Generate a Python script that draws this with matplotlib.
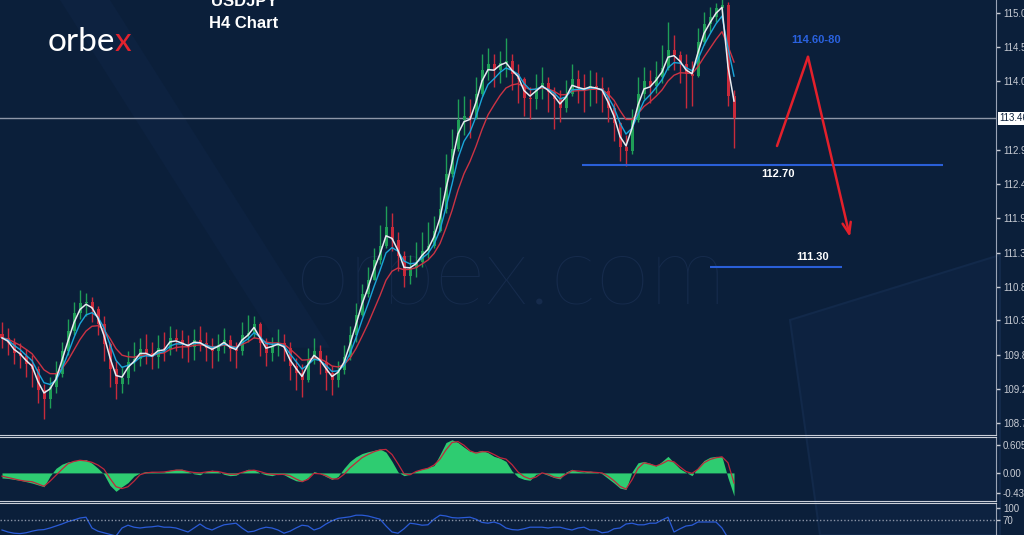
import matplotlib
matplotlib.use("Agg")
import matplotlib.pyplot as plt
import numpy as np
import pandas as pd

BG = "#0b1f3a"

# USDJPY H4 candles (each bar here covers roughly three real H4 bars)
opens = [
    110.12, 110.06, 109.98, 109.82, 109.78, 109.66, 109.58, 109.26, 109.12, 109.30,
    109.50, 109.86, 110.16, 110.44, 110.60, 110.62, 110.50, 110.28, 109.96, 109.58,
    109.34, 109.44, 109.68, 109.74, 109.88, 109.82, 109.76, 109.90, 109.88, 110.06,
    110.02, 109.96, 109.92, 110.02, 109.98, 109.90, 109.86, 109.95, 110.02, 109.88,
    109.86, 110.10, 110.14, 110.28, 109.98, 109.82, 109.94, 109.98, 109.90, 109.62,
    109.52, 109.40, 109.74, 109.86, 109.68, 109.52, 109.40, 109.56, 109.76, 110.10,
    110.42, 110.74, 110.96, 111.26, 111.48, 111.78, 111.58, 111.32, 111.02, 111.14,
    111.24, 111.40, 111.48, 111.72, 112.06, 112.60, 112.98, 113.44, 113.50, 113.46,
    113.84, 114.20, 114.30, 114.20, 114.32, 114.34, 114.14, 114.06, 113.78, 113.76,
    113.92, 114.00, 113.86, 113.76, 113.62, 113.84, 114.06, 113.92, 113.90, 113.96,
    113.92, 113.88, 113.62, 113.38, 113.02, 112.96, 113.44, 113.84, 114.04, 113.96,
    114.10, 114.24, 114.52, 114.44, 114.30, 114.14, 114.12, 114.64, 114.92, 115.02,
    115.16, 115.22, 113.80]
closes = [
    110.06, 109.98, 109.82, 109.78, 109.66, 109.58, 109.26, 109.12, 109.30, 109.50,
    109.86, 110.16, 110.44, 110.60, 110.62, 110.50, 110.28, 109.96, 109.58, 109.34,
    109.44, 109.68, 109.74, 109.88, 109.82, 109.76, 109.90, 109.88, 110.06, 110.02,
    109.96, 109.92, 110.02, 109.98, 109.90, 109.86, 109.95, 110.02, 109.88, 109.86,
    110.10, 110.14, 110.28, 109.98, 109.82, 109.94, 109.98, 109.90, 109.62, 109.52,
    109.40, 109.74, 109.86, 109.68, 109.52, 109.40, 109.56, 109.76, 110.10, 110.42,
    110.74, 110.96, 111.26, 111.48, 111.78, 111.58, 111.32, 111.02, 111.14, 111.24,
    111.40, 111.48, 111.72, 112.06, 112.60, 112.98, 113.44, 113.50, 113.46, 113.84,
    114.20, 114.30, 114.20, 114.32, 114.34, 114.14, 114.06, 113.78, 113.76, 113.92,
    114.00, 113.86, 113.76, 113.62, 113.84, 114.06, 113.92, 113.90, 113.96, 113.92,
    113.88, 113.62, 113.38, 113.02, 112.96, 113.44, 113.84, 114.04, 113.96, 114.10,
    114.24, 114.52, 114.44, 114.30, 114.14, 114.12, 114.64, 114.92, 115.02, 115.16,
    115.22, 113.80, 113.46]
highs = [
    110.30, 110.22, 110.05, 109.98, 109.88, 109.80, 109.62, 109.35, 109.45, 109.70,
    110.00, 110.35, 110.62, 110.80, 110.75, 110.70, 110.55, 110.40, 110.00, 109.70,
    109.62, 109.85, 110.00, 110.05, 110.12, 110.00, 110.10, 110.15, 110.25, 110.20,
    110.18, 110.10, 110.20, 110.25, 110.15, 110.05, 110.12, 110.22, 110.10, 110.00,
    110.30, 110.42, 110.40, 110.30, 110.05, 110.08, 110.20, 110.12, 110.00, 109.75,
    109.65, 109.90, 110.05, 109.95, 109.80, 109.62, 109.70, 109.95, 110.25, 110.60,
    110.90, 111.15, 111.45, 111.80, 112.10, 112.00, 111.70, 111.40, 111.35, 111.55,
    111.70, 111.85, 111.95, 112.40, 112.90, 113.30, 113.75, 113.80, 113.75, 114.10,
    114.45, 114.55, 114.45, 114.50, 114.70, 114.45, 114.30, 114.10, 113.95, 114.15,
    114.25, 114.10, 113.95, 113.90, 114.05, 114.30, 114.20, 114.15, 114.20, 114.18,
    114.10, 113.95, 113.70, 113.40, 113.20, 113.60, 114.10, 114.25, 114.20, 114.35,
    114.60, 114.95, 114.75, 114.50, 114.45, 114.35, 114.85, 115.10, 115.18, 115.25,
    115.30, 115.26, 113.90]
lows = [
    109.90, 109.80, 109.66, 109.60, 109.45, 109.30, 109.05, 108.80, 108.98, 109.20,
    109.45, 109.80, 110.10, 110.35, 110.40, 110.30, 110.10, 109.70, 109.30, 109.12,
    109.20, 109.35, 109.55, 109.62, 109.65, 109.58, 109.60, 109.70, 109.80, 109.85,
    109.75, 109.68, 109.72, 109.85, 109.70, 109.60, 109.70, 109.82, 109.70, 109.60,
    109.80, 110.00, 110.05, 109.78, 109.62, 109.70, 109.78, 109.70, 109.40, 109.25,
    109.15, 109.38, 109.65, 109.50, 109.25, 109.18, 109.30, 109.50, 109.72, 110.00,
    110.40, 110.70, 110.95, 111.20, 111.45, 111.40, 111.10, 110.85, 110.90, 111.00,
    111.15, 111.30, 111.45, 111.70, 112.00, 112.55, 112.95, 113.20, 113.15, 113.45,
    113.80, 114.05, 113.95, 114.00, 114.10, 113.90, 113.70, 113.50, 113.45, 113.60,
    113.75, 113.55, 113.30, 113.40, 113.55, 113.80, 113.70, 113.55, 113.65, 113.70,
    113.55, 113.40, 113.10, 112.80, 112.72, 112.90, 113.40, 113.75, 113.70, 113.85,
    114.00, 114.20, 114.20, 114.00, 113.62, 113.65, 114.10, 114.60, 114.80, 114.95,
    115.00, 113.65, 113.00]

# MACD (histogram + signal line)
macd_hist = [
    -0.11, -0.12, -0.14, -0.16, -0.19, -0.22, -0.26, -0.30, -0.07, 0.10,
    0.19, 0.24, 0.26, 0.28, 0.29, 0.21, 0.10, -0.03, -0.27, -0.40,
    -0.30, -0.21, -0.07, 0.00, 0.03, 0.03, 0.01, 0.02, 0.06, 0.08,
    0.08, 0.03, -0.02, -0.04, 0.03, 0.06, 0.03, -0.03, -0.06, -0.05,
    0.02, 0.08, 0.07, 0.00, -0.04, -0.06, -0.02, -0.04, -0.11, -0.17,
    -0.19, -0.10, 0.03, -0.01, -0.08, -0.14, -0.08, 0.10, 0.25, 0.35,
    0.42, 0.46, 0.49, 0.52, 0.45, 0.25, 0.02, -0.06, -0.03, 0.04,
    0.08, 0.12, 0.16, 0.40, 0.66, 0.72, 0.66, 0.56, 0.47, 0.46,
    0.49, 0.44, 0.36, 0.32, 0.25, 0.04, -0.09, -0.14, -0.16, -0.03,
    0.00, -0.05, -0.10, -0.13, 0.02, 0.08, 0.03, 0.02, 0.04, 0.02,
    -0.02, -0.12, -0.22, -0.33, -0.36, 0.02, 0.22, 0.25, 0.21, 0.15,
    0.25, 0.36, 0.22, 0.09, 0.01, -0.06, 0.12, 0.27, 0.34, 0.36,
    0.35, -0.11, -0.50]
macd_signal = [
    -0.07, -0.10, -0.13, -0.16, -0.18, -0.19, -0.24, -0.29, -0.18, -0.05,
    0.08, 0.20, 0.25, 0.275, 0.26, 0.23, 0.17, 0.08, -0.12, -0.30,
    -0.34, -0.30, -0.18, -0.04, 0.00, 0.015, 0.015, 0.02, 0.04, 0.06,
    0.06, 0.03, 0.01, 0.00, 0.02, 0.035, 0.03, 0.00, -0.03, -0.03,
    0.01, 0.05, 0.06, 0.03, -0.01, -0.03, -0.035, -0.03, -0.06, -0.13,
    -0.19, -0.14, -0.01, -0.02, -0.06, -0.13, -0.13, -0.03, 0.11, 0.22,
    0.33, 0.40, 0.46, 0.50, 0.51, 0.40, 0.20, -0.02, -0.04, 0.03,
    0.07, 0.10, 0.17, 0.30, 0.50, 0.66, 0.68, 0.60, 0.48, 0.43,
    0.46, 0.46, 0.40, 0.33, 0.30, 0.18, 0.02, -0.08, -0.13, -0.09,
    0.00, -0.03, -0.09, -0.11, -0.03, 0.05, 0.04, 0.03, 0.02, 0.01,
    0.00, -0.07, -0.17, -0.29, -0.35, -0.15, 0.10, 0.22, 0.19, 0.15,
    0.20, 0.27, 0.24, 0.13, 0.03, -0.01, 0.08, 0.22, 0.29, 0.33,
    0.35, 0.22, -0.22]

# RSI
rsi = [
    45, 40, 37, 36, 38, 42, 45, 46, 50, 55,
    60, 66, 70, 75, 77, 50, 42, 38, 34, 30,
    50, 57, 52, 50, 52, 53, 55, 52, 52, 50,
    45, 40, 50, 60, 50, 45, 52, 58, 60, 62,
    50, 40, 42, 48, 52, 50, 45, 37, 42, 50,
    57, 55, 45, 50, 60, 68, 74, 76, 78, 82,
    82, 80, 76, 72, 55, 40, 37, 48, 62, 60,
    57, 58, 72, 82, 80, 76, 75, 76, 77, 72,
    64, 62, 65, 60, 50, 46, 45, 48, 52, 52,
    52, 50, 52, 52, 48, 45, 50, 52, 45, 45,
    38, 40, 48, 50, 60, 62, 58, 58, 62, 62,
    70, 77, 40, 48, 55, 57, 65, 65, 65, 65,
    50, 25, 15]

price_ticks = [115.09, 114.56, 114.03, 112.97, 112.44, 111.91, 111.38,
               110.85, 110.33, 109.80, 109.27, 108.74]
last_price = 113.46

plt.rcParams["font.family"] = ["Liberation Sans", "DejaVu Sans"]

n = len(closes)
x = np.arange(n)
df = pd.DataFrame({"o": opens, "h": highs, "l": lows, "c": closes})
ma_fast = df["c"].ewm(span=2, adjust=False).mean()
ma_mid = df["c"].ewm(span=4, adjust=False).mean()
ma_slow = df["c"].ewm(span=8, adjust=False).mean()

W, H = 1024, 535
fig = plt.figure(figsize=(W / 100, H / 100), dpi=100, facecolor=BG)


def panel(top, bottom):
    return [0, (H - bottom) / H, 996 / W, (bottom - top) / H]


def px_to_i(px):
    return (px - 2) / 6.0


# faint background decoration (diagonal band top-left, shape bottom-right)
fig.patches.append(plt.Polygon([(60 / W, 1), (110 / W, 1), (330 / W, 0.35), (280 / W, 0.35)],
                               closed=True, transform=fig.transFigure, fc="#0d2240",
                               ec="none", zorder=-5))
fig.patches.append(plt.Polygon([(790 / W, 1 - 320 / H), (1000 / W, 1 - 255 / H),
                                (1000 / W, 0), (820 / W, 0)],
                               closed=True, transform=fig.transFigure, fc="#0d2240",
                               ec="#12294a", lw=1.5, zorder=-5))

ax = fig.add_axes(panel(0, 435))
ax_m = fig.add_axes(panel(437, 501))
ax_r = fig.add_axes(panel(503, 548))
for a in (ax, ax_m, ax_r):
    a.patch.set_alpha(0)

xlim = (px_to_i(0), px_to_i(996))

# watermark
ax.text(px_to_i(511), 110.99, "orbex.com", fontsize=70, family="Lato",
        weight="light", color="#162b4c", ha="center", va="center", zorder=0)

# candles
up = df["c"] >= df["o"]
col = np.where(up, "#1f9e57", "#c82a3b")
ax.vlines(x, df["l"], df["h"], colors=col, lw=1, zorder=2)
ax.bar(x, (df["c"] - df["o"]).abs().clip(lower=0.015), bottom=df[["o", "c"]].min(axis=1),
       width=0.5, color=col, lw=0, zorder=2)

ax.plot(x, ma_slow, color="#cc3344", lw=1, zorder=3)
ax.plot(x, ma_mid, color="#1aa6da", lw=1, zorder=3)
ax.plot(x, ma_fast, color="#e8ebf0", lw=1.1, zorder=4)

ax.axhline(last_price, color="#8e97a8", lw=1, zorder=1)

# analyst levels and projection
ax.hlines(112.73, px_to_i(582), px_to_i(943), color="#2a5fd8", lw=1.5, zorder=5)
ax.hlines(111.16, px_to_i(710), px_to_i(842), color="#2a5fd8", lw=1.5, zorder=5)
ax.text(px_to_i(778), 112.60, "112.70", color="white", fontsize=8, weight="bold",
        ha="center", va="center")
ax.text(px_to_i(813), 111.31, "111.30", color="white", fontsize=8, weight="bold",
        ha="center", va="center")
ax.text(px_to_i(816), 114.67, "114.60-80", color="#2a62e0", fontsize=8, weight="bold",
        ha="center", va="center")
peak = (px_to_i(808), 114.41)
ax.plot([px_to_i(777), peak[0]], [113.03, peak[1]], color="#e3202b", lw=1.8,
        solid_capstyle="round", zorder=6)
ax.annotate("", xy=(px_to_i(850), 111.62), xytext=peak,
            arrowprops=dict(arrowstyle="->,head_length=0.8,head_width=0.3",
                            color="#e3202b", lw=1.8, shrinkA=0, shrinkB=0), zorder=6)

ax.set_xlim(xlim)
ax.set_ylim(108.556, 115.29)
ax.yaxis.tick_right()
ax.set_yticks(price_ticks)
ax.set_yticklabels([f"{t:.2f}" for t in price_ticks])
ax.set_xticks([])

bid_label_tf = matplotlib.transforms.blended_transform_factory(ax.transAxes, ax.transData)
ax.text(1.003, last_price, f"{last_price:.2f}", transform=bid_label_tf, fontsize=7,
        color="#0b1f3a", ha="left", va="center",
        bbox=dict(boxstyle="square,pad=0.15", fc="white", ec="none"))

# MACD
ax_m.fill_between(x, 0, macd_hist, color="#2ecc71", lw=0)
ax_m.plot(x, macd_signal, color="#c0283c", lw=0.9)
ax_m.set_xlim(xlim)
ax_m.set_ylim(-0.61, 0.78)
ax_m.yaxis.tick_right()
ax_m.set_yticks([0.6051, 0.0, -0.434])
ax_m.set_yticklabels(["0.6051", "0.00", "-0.434"])
ax_m.set_xticks([])

# RSI
ax_r.plot(x, rsi, color="#2a5bd7", lw=0.9)
ax_r.axhline(70, color="#8a93a6", lw=1, ls=(0, (1, 1.5)))
ax_r.set_xlim(xlim)
ax_r.set_ylim(0, 112.5)
ax_r.yaxis.tick_right()
ax_r.set_yticks([100, 70])
ax_r.set_yticklabels(["100", "70"])
ax_r.set_xticks([])

for a in (ax, ax_m, ax_r):
    for side in ("left", "top", "bottom", "right"):
        a.spines[side].set_visible(False)
    a.spines["right"].set_visible(True)
    a.spines["right"].set_color("#9aa3b5")
    a.tick_params(axis="y", colors="#c8ccd4", labelsize=7, length=3, width=1, pad=2)

ax.spines["bottom"].set_visible(True)
ax.spines["bottom"].set_color("#c9ced8")
ax_m.spines["top"].set_visible(True)
ax_m.spines["top"].set_color("#c9ced8")
ax_m.spines["bottom"].set_visible(True)
ax_m.spines["bottom"].set_color("#c9ced8")
ax_r.spines["top"].set_visible(True)
ax_r.spines["top"].set_color("#c9ced8")

# logo and title
fig.text(115 / W, 1 - 42 / H, "orbe", color="white", fontsize=24, family="Lato",
         ha="right", va="center")
fig.text(115 / W, 1 - 42 / H, "x", color="#e2232e", fontsize=24, family="Lato",
         ha="left", va="center")
fig.text(244 / W, 1 - 1 / H, "USDJPY", color="white", fontsize=12, weight="bold",
         ha="center", va="center")
fig.text(244 / W, 1 - 23 / H, "H4 Chart", color="white", fontsize=12, weight="bold",
         ha="center", va="center")

fig.savefig("out.png", dpi=100, facecolor=BG)
